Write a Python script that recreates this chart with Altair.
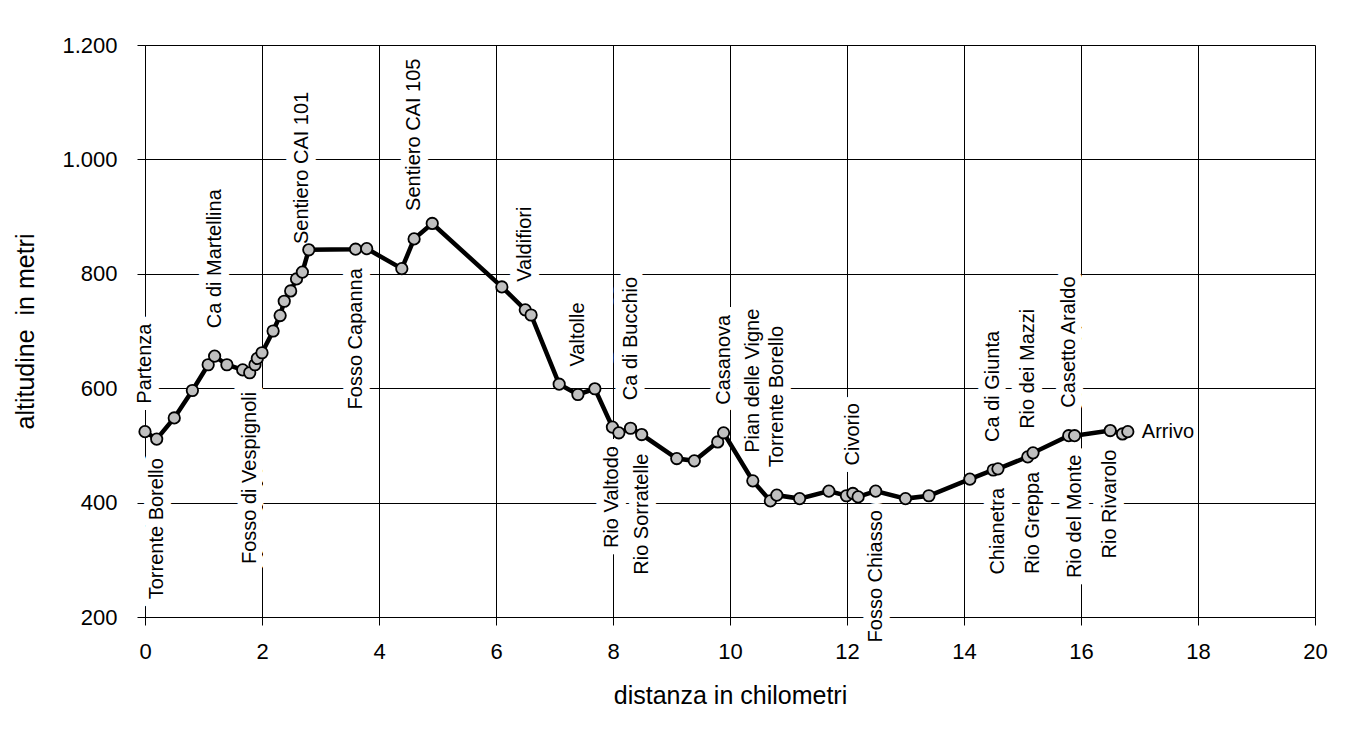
import altair as alt
import pandas as pd

# distance along the route (km) and altitude (m)
km = [0.00, 0.20, 0.50, 0.81, 1.08, 1.19, 1.40, 1.67, 1.79, 1.88,
      1.92, 2.00, 2.19, 2.31, 2.38, 2.49, 2.59, 2.69, 2.80, 3.60,
      3.79, 4.39, 4.60, 4.91, 6.10, 6.50, 6.60, 7.08, 7.40, 7.69,
      7.99, 8.10, 8.30, 8.49, 9.09, 9.39, 9.79, 9.89, 10.39, 10.69,
      10.80, 11.19, 11.69, 11.99, 12.10, 12.19, 12.49, 13.00, 13.40, 14.10,
      14.50, 14.58, 15.09, 15.18, 15.79, 15.89, 16.50, 16.71, 16.80]
altitude = [524, 511, 548, 596, 641, 656, 641, 632, 627, 641,
            652, 662, 700, 727, 752, 770, 791, 803, 842, 843,
            844, 809, 861, 888, 777, 737, 728, 607, 589, 599,
            532, 522, 530, 519, 477, 473, 506, 522, 438, 403,
            413, 407, 420, 412, 416, 410, 420, 407, 412, 441,
            457, 459, 480, 487, 517, 517, 526, 520, 524]

# place names, the point each one belongs to, and where it is written
label_text = ["Partenza", "Torrente Borello", "Ca di Martellina", "Fosso di Vespignoli",
              "Sentiero CAI 101", "Fosso Capanna", "Sentiero CAI 105", "Valdifiori",
              "Valtolle", "Rio Valtodo", "Ca di Bucchio", "Rio Sorratelle",
              "Casanova", "Pian delle Vigne", "Torrente Borello", "Civorio",
              "Fosso Chiasso", "Ca di Giunta", "Chianetra", "Rio dei Mazzi",
              "Rio Greppa", "Casetto Araldo", "Rio del Monte", "Rio Rivarolo", "Arrivo"]
label_point = [0, 1, 5, 8, 17, 19, 22, 25, 28, 30, 32, 33, 37, 38, 40, 44,
               46, 50, 51, 52, 53, 54, 55, 56, 58]
label_side = ["above", "below", "above", "below", "above", "below", "above", "above",
              "above", "below", "above", "below", "above", "above", "above", "above",
              "below", "above", "below", "above", "below", "above", "below", "below", "right"]

x_ticks = list(range(0, 21, 2))
y_ticks = list(range(200, 1201, 200))

points = pd.DataFrame({"km": km, "alt": altitude, "order": list(range(len(km)))})
labels = pd.DataFrame({
    "name": label_text,
    "km": [km[i] for i in label_point],
    "alt": [altitude[i] for i in label_point],
    "side": label_side,
})

FONT = "Liberation Sans, Arial, sans-serif"

x_enc = alt.X("km:Q",
              scale=alt.Scale(domain=[0, 20], nice=False, zero=False),
              axis=alt.Axis(values=x_ticks, title="distanza in chilometri",
                            labelPadding=16, titleY=86, titleBaseline="alphabetic",
                            titleFontSize=25))
y_enc = alt.Y("alt:Q",
              scale=alt.Scale(domain=[200, 1200], nice=False, zero=False),
              axis=alt.Axis(values=y_ticks, title="altitudine\u00a0 in metri",
                            labelExpr="replace(format(datum.value, ','), ',', '.')",
                            labelPadding=20, titleX=-112, titleBaseline="alphabetic",
                            titleFontSize=25))

line = alt.Chart(points).mark_line(color="black", strokeWidth=4.5).encode(
    x=x_enc, y=y_enc, order="order:Q")
dots = alt.Chart(points).mark_point(
    shape="circle", filled=True, fill="#c0c0c0", stroke="black",
    strokeWidth=1.8, size=130, opacity=1).encode(x=x_enc, y=y_enc)


def text_pair(side, angle, align, dx):
    base = alt.Chart(labels).transform_filter(alt.datum.side == side)
    bg = base.mark_text(angle=angle, align=align, baseline="middle", dx=dx,
                        font=FONT, fontSize=20, fill="white", stroke="white",
                        strokeWidth=16, strokeJoin="round").encode(
        x=x_enc, y=y_enc, text="name:N")
    fg = base.mark_text(angle=angle, align=align, baseline="middle", dx=dx,
                        font=FONT, fontSize=20, color="black").encode(
        x=x_enc, y=y_enc, text="name:N")
    return bg, fg


above_bg, above_fg = text_pair("above", 270, "left", 28)
below_bg, below_fg = text_pair("below", 270, "right", -19)
right_bg, right_fg = text_pair("right", 0, "left", 14)

chart = alt.layer(
    above_bg, below_bg, line, dots, above_fg, below_fg, right_fg
).properties(
    width=1170, height=572,
    padding={"left": 137, "top": 37, "right": 30, "bottom": 100},
    autosize=alt.AutoSizeParams(type="none"),
).configure_view(
    stroke="transparent"
).configure_axis(
    grid=True, gridColor="black", gridOpacity=1, gridWidth=1,
    domainColor="black", domainWidth=1,
    tickColor="black", tickSize=8, tickWidth=1,
    labelFont=FONT, labelFontSize=22, labelColor="black",
    labelFlush=False, labelOverlap=False,
    titleFont=FONT, titleFontWeight="normal", titleColor="black",
)

chart.save("out.html", embed_options={"renderer": "svg", "actions": False})
